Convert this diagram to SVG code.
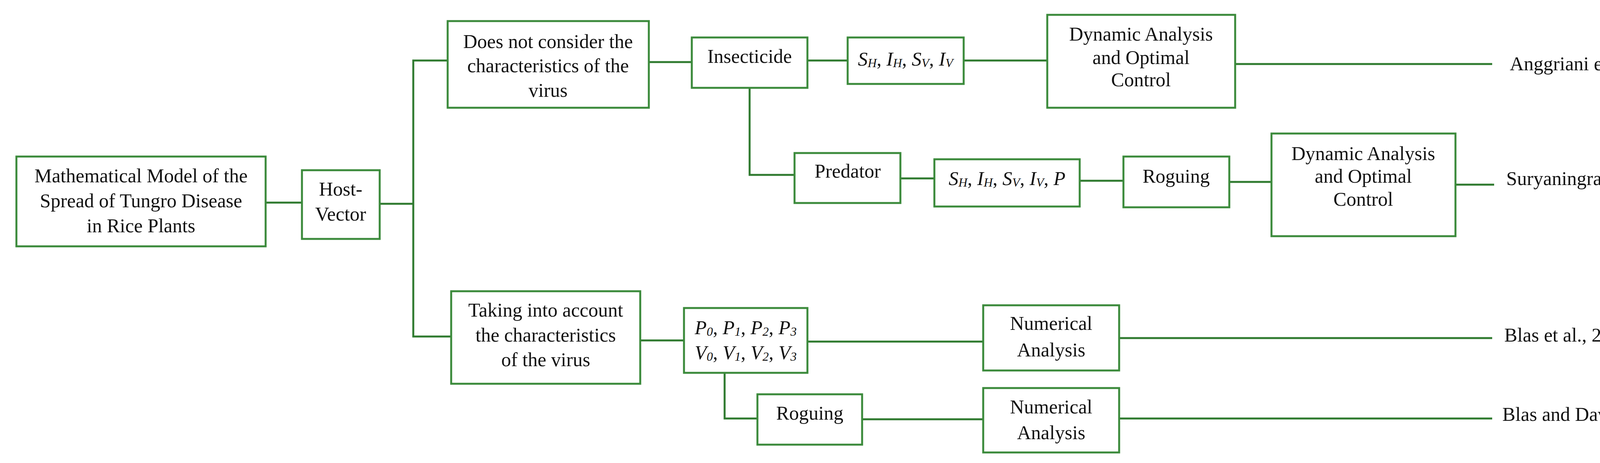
<svg xmlns="http://www.w3.org/2000/svg" width="4402" height="1186" viewBox="0 0 4402 1186">
<style>
rect{fill:#fff;stroke:#3b8a3b;stroke-width:5}
.c line,.c polyline{stroke:#2f7a2f;stroke-width:5;fill:none}
text{font-family:"Liberation Serif","Times New Roman",serif;font-size:50px;fill:#111;text-anchor:middle;dominant-baseline:central}
.l{text-anchor:start}
.i{font-style:italic}
.s{font-size:32px;font-style:italic}
</style>
<rect x="0" y="0" width="4402" height="1186" style="fill:#fff;stroke:none"/>
<g class="c">
<line x1="680" y1="519" x2="773" y2="519"/>
<line x1="972" y1="522" x2="1058" y2="522"/>
<polyline points="1146,155 1058,155 1058,862 1155,862"/>
<line x1="1661" y1="159" x2="1771" y2="159"/>
<line x1="2067" y1="155" x2="2170" y2="155"/>
<polyline points="1919,225 1919,448 2034,448"/>
<line x1="2467" y1="155" x2="2681" y2="155"/>
<line x1="3162" y1="164" x2="3820" y2="164"/>
<line x1="2305" y1="457" x2="2392" y2="457"/>
<line x1="2764" y1="463" x2="2876" y2="463"/>
<line x1="3147" y1="466" x2="3255" y2="466"/>
<line x1="3726" y1="473" x2="3825" y2="473"/>
<line x1="1639" y1="872" x2="1751" y2="872"/>
<line x1="2067" y1="875" x2="2517" y2="875"/>
<line x1="2865" y1="866" x2="3820" y2="866"/>
<polyline points="1855,955 1855,1072 1939,1072"/>
<line x1="2207" y1="1074" x2="2517" y2="1074"/>
<line x1="2865" y1="1072" x2="3820" y2="1072"/>
</g>
<g id="main"><rect x="42" y="401" width="638" height="230"/>
<text x="361" y="450">Mathematical Model of the</text><text x="361" y="514">Spread of Tungro Disease</text><text x="361" y="578">in Rice Plants</text></g>
<g id="host"><rect x="773" y="436" width="199" height="176"/><text x="872" y="484">Host-</text><text x="872" y="548">Vector</text></g>
<g id="notconsider"><rect x="1146" y="54" width="515" height="222"/>
<text x="1403" y="106">Does not consider the</text><text x="1403" y="168">characteristics of the</text><text x="1403" y="231">virus</text></g>
<g id="insecticide"><rect x="1771" y="96" width="296" height="129"/><text x="1919" y="144">Insecticide</text></g>
<g id="s1"><rect x="2170" y="96" width="297" height="119"/>
<text x="2318" y="151"><tspan class="i">S</tspan><tspan class="s" dy="10">H</tspan><tspan dy="-10">, </tspan><tspan class="i">I</tspan><tspan class="s" dy="10">H</tspan><tspan dy="-10">, </tspan><tspan class="i">S</tspan><tspan class="s" dy="10">V</tspan><tspan dy="-10">, </tspan><tspan class="i">I</tspan><tspan class="s" dy="10">V</tspan></text></g>
<g id="dyn1"><rect x="2681" y="38" width="481" height="238"/>
<text x="2921" y="87">Dynamic Analysis</text><text x="2921" y="147">and Optimal</text><text x="2921" y="204">Control</text></g>
<g id="ref1"><text class="l" x="3865" y="163">Anggriani et al., 2017</text></g>
<g id="predator"><rect x="2034" y="392" width="271" height="128"/><text x="2170" y="438">Predator</text></g>
<g id="s2"><rect x="2392" y="408" width="372" height="121"/>
<text x="2578" y="457"><tspan class="i">S</tspan><tspan class="s" dy="10">H</tspan><tspan dy="-10">, </tspan><tspan class="i">I</tspan><tspan class="s" dy="10">H</tspan><tspan dy="-10">, </tspan><tspan class="i">S</tspan><tspan class="s" dy="10">V</tspan><tspan dy="-10">, </tspan><tspan class="i">I</tspan><tspan class="s" dy="10">V</tspan><tspan dy="-10">, </tspan><tspan class="i">P</tspan></text></g>
<g id="roguing1"><rect x="2876" y="401" width="271" height="130"/><text x="3011" y="451">Roguing</text></g>
<g id="dyn2"><rect x="3255" y="342" width="471" height="263"/>
<text x="3490" y="393">Dynamic Analysis</text><text x="3490" y="451">and Optimal</text><text x="3490" y="510">Control</text></g>
<g id="ref2"><text class="l" x="3856" y="457">Suryaningrat et al., 2020</text></g>
<g id="taking"><rect x="1155" y="746" width="484" height="237"/>
<text x="1397" y="794">Taking into account</text><text x="1397" y="858">the characteristics</text><text x="1397" y="921">of the virus</text></g>
<g id="pv"><rect x="1751" y="789" width="316" height="166"/>
<text x="1909" y="839"><tspan class="i">P</tspan><tspan class="s" dy="10">0</tspan><tspan dy="-10">, </tspan><tspan class="i">P</tspan><tspan class="s" dy="10">1</tspan><tspan dy="-10">, </tspan><tspan class="i">P</tspan><tspan class="s" dy="10">2</tspan><tspan dy="-10">, </tspan><tspan class="i">P</tspan><tspan class="s" dy="10">3</tspan></text>
<text x="1909" y="903"><tspan class="i">V</tspan><tspan class="s" dy="10">0</tspan><tspan dy="-10">, </tspan><tspan class="i">V</tspan><tspan class="s" dy="10">1</tspan><tspan dy="-10">, </tspan><tspan class="i">V</tspan><tspan class="s" dy="10">2</tspan><tspan dy="-10">, </tspan><tspan class="i">V</tspan><tspan class="s" dy="10">3</tspan></text></g>
<g id="num1"><rect x="2517" y="782" width="348" height="167"/><text x="2691" y="828">Numerical</text><text x="2691" y="896">Analysis</text></g>
<g id="ref3"><text class="l" x="3851" y="858">Blas et al., 2016</text></g>
<g id="roguing2"><rect x="1939" y="1010" width="268" height="129"/><text x="2073" y="1058">Roguing</text></g>
<g id="num2"><rect x="2517" y="994" width="348" height="165"/><text x="2691" y="1042">Numerical</text><text x="2691" y="1108">Analysis</text></g>
<g id="ref4"><text class="l" x="3846" y="1061">Blas and David, 2017</text></g>
</svg>
